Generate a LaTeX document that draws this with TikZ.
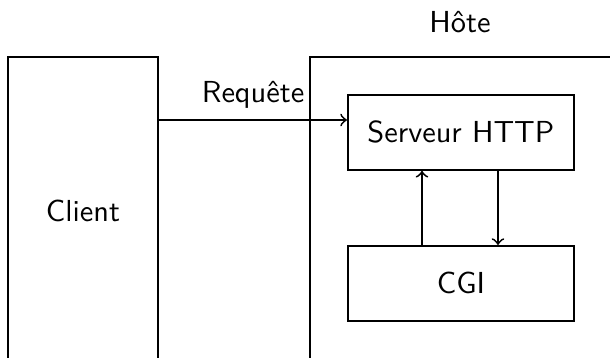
\documentclass[tikz,border=0pt]{standalone}
\begin{document}
\begin{tikzpicture}[x=0.329pt, y=-0.329pt,
  font=\sffamily,
  box/.style={draw, line width=0.6pt, inner sep=0pt},
  link/.style={draw, line width=0.6pt, ->}]
  \useasboundingbox (0,0) rectangle (610,358);
  \clip (0,0) rectangle (610,358);

  % outer machines
  \node[box, minimum width=150*0.329pt, minimum height=308*0.329pt, anchor=north west]
    (client) at (7,56) {Client};
  \node[box, minimum width=302*0.329pt, minimum height=308*0.329pt, anchor=north west]
    (host) at (309,56) {};
  \node[anchor=base] (hostlabel) at (460,32) {Hôte};

  % components inside the host
  \node[box, minimum width=226*0.329pt, minimum height=75*0.329pt, anchor=north west]
    (http) at (347,94) {Serveur HTTP};
  \node[box, minimum width=226*0.329pt, minimum height=75*0.329pt, anchor=north west]
    (cgi) at (347,245) {CGI};

  % request from the client to the web server
  \coordinate (reqstart) at (client.east |- 0,120);
  \coordinate (reqend) at (http.west |- 0,120);
  \draw[link] (reqstart) -- (reqend);
  \node[anchor=base east, inner sep=0pt] (reqlabel) at (305,102) {Requête};

  % exchanges between the server and the CGI program
  \draw[link] (cgi.north -| 422,0) -- (http.south -| 422,0);
  \draw[link] (http.south -| 498,0) -- (cgi.north -| 498,0);
\end{tikzpicture}
\end{document}
